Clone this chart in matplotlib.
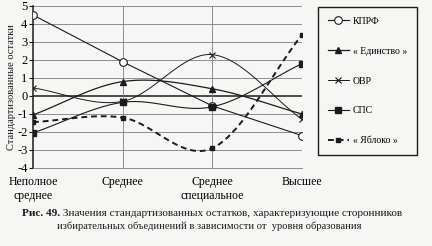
import numpy as np
import matplotlib.pyplot as plt

# education levels (x categories)
categories = ["Неполное\nсреднее", "Среднее", "Среднее\nспециальное", "Высшее"]

# standardized residuals
kprf = [4.5, 1.9, -0.55, -2.2]
edinstvo = [-1.05, 0.8, 0.4, -1.0]
ovr = [0.45, -0.3, 2.3, -1.3]
sps = [-2.05, -0.35, -0.6, 1.8]
yabloko = [-1.45, -1.2, -2.9, 3.4]

y_ticks = [5, 4, 3, 2, 1, 0, -1, -2, -3, -4]

plt.rcParams['font.family'] = ['Liberation Serif', 'DejaVu Serif']
INK = '#1b1b1b'
BG = '#f6f6f4'
N = 24  # samples per segment for smoothed curves


def smooth(y):
    """Catmull-Rom curve through the points (used for the smoothed series)."""
    y = np.asarray(y, dtype=float)
    x = np.arange(len(y), dtype=float)
    p = np.concatenate([[2 * y[0] - y[1]], y, [2 * y[-1] - y[-2]]])
    xs, ys = [], []
    for i in range(len(y) - 1):
        t = np.linspace(0, 1, N, endpoint=False)
        p0, p1, p2, p3 = p[i], p[i + 1], p[i + 2], p[i + 3]
        m1 = (p2 - p0) / 2
        m2 = (p3 - p1) / 2
        h00 = 2 * t**3 - 3 * t**2 + 1
        h10 = t**3 - 2 * t**2 + t
        h01 = -2 * t**3 + 3 * t**2
        h11 = t**3 - t**2
        xs.append(x[i] + t)
        ys.append(h00 * p1 + h10 * m1 + h01 * p2 + h11 * m2)
    xs.append([x[-1]])
    ys.append([y[-1]])
    return np.concatenate(xs), np.concatenate(ys)


fig = plt.figure(figsize=(4.32, 2.46), dpi=100, facecolor=BG)
ax = fig.add_axes([33 / 432, 1 - 168 / 246, 269 / 432, 162 / 246])
ax.set_facecolor(BG)

marks = list(range(0, 3 * N + 1, N))
x = np.arange(len(categories))

ax.plot(x, kprf, color=INK, lw=0.8, marker='o', ms=5.5, mfc='white',
        mec=INK, mew=0.8, label='КПРФ', zorder=4)

xs, ys = smooth(edinstvo)
ax.plot(xs, ys, color=INK, lw=0.9, marker='^', ms=5, mfc=INK, mec=INK,
        markevery=marks, label='« Единство »', zorder=4)

xs, ys = smooth(ovr)
ax.plot(xs, ys, color=INK, lw=0.7, marker='x', ms=4.5, mew=0.8,
        markevery=marks, label='ОВР', zorder=4)

xs, ys = smooth(sps)
ax.plot(xs, ys, color=INK, lw=0.8, marker='s', ms=5, mfc=INK, mec=INK,
        markevery=marks, label='СПС', zorder=5)

xs, ys = smooth(yabloko)
ax.plot(xs, ys, color=INK, lw=1.4, ls=(0, (3, 2)), marker='s', ms=2.2,
        mfc=INK, mec=INK, markevery=marks, label='« Яблоко »', zorder=4)

ax.set_xlim(0, 3)
ax.set_ylim(-4, 5)
ax.set_yticks(y_ticks)
ax.set_yticklabels([str(v) for v in y_ticks], fontsize=9)
ax.set_xticks(x)
ax.set_xticklabels(categories, fontsize=8.5)
ax.tick_params(axis='x', length=0, pad=6)
ax.tick_params(axis='y', length=3, width=0.8, pad=1, color=INK)

for v in y_ticks:
    ax.axhline(v, color='#7d7d7d' if v != 0 else INK,
               lw=0.6 if v != 0 else 1.1, zorder=1)
for xv in x[1:]:
    ax.axvline(xv, color='#7d7d7d', lw=0.6, zorder=1)

for side in ['top', 'right']:
    ax.spines[side].set_visible(False)
ax.spines['left'].set_linewidth(1.1)
ax.spines['left'].set_color(INK)
ax.spines['bottom'].set_color('#7d7d7d')
ax.spines['bottom'].set_linewidth(0.6)

fig.text(12 / 432, 1 - 87 / 246, 'Стандартизованные остатки', rotation=90,
         ha='center', va='center', fontsize=7.5, color=INK)

leg = fig.legend(loc='upper left', bbox_to_anchor=(318 / 432, 1 - 7 / 246),
                 fontsize=7, handlelength=2.2, handletextpad=0.4,
                 labelspacing=2.15, borderpad=1.0, borderaxespad=0,
                 fancybox=False, framealpha=1, edgecolor=INK,
                 facecolor=BG, numpoints=1)
leg.get_frame().set_linewidth(1.0)

# caption
cap = fig.text(22 / 432, 1 - 216 / 246, 'Рис. 49.', fontsize=8.1,
               fontweight='bold', color=INK, va='baseline')
ax.annotate(' Значения стандартизованных остатков, характеризующие сторонников',
            xy=(1, 0), xycoords=cap, va='bottom', ha='left',
            fontsize=8.1, color=INK, annotation_clip=False)
fig.text(57 / 432, 1 - 229 / 246,
         'избирательных объединений в зависимости от  уровня образования',
         fontsize=7.6, color=INK, va='baseline')

fig.savefig('out.png', dpi=100, facecolor=BG)
